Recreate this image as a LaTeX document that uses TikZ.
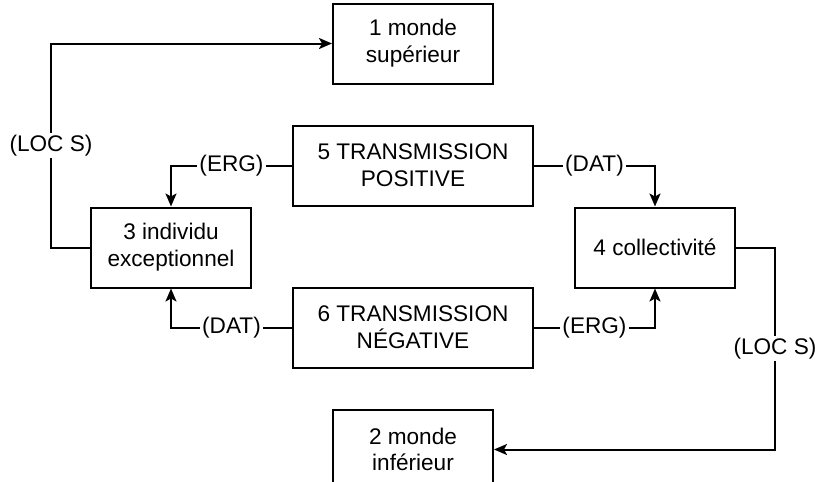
\documentclass[tikz,border=0pt]{standalone}
\usepackage{fontspec}
\setmainfont{Liberation Sans}
\usetikzlibrary{arrows.meta, positioning}

\begin{document}
\begin{tikzpicture}[
    x=1pt, y=1pt,
    node distance=40pt,
    every node/.style={font=\fontsize{22.6}{26.8}\selectfont},
    block/.style={rectangle, draw, line width=2pt, minimum width=160pt, minimum height=80pt, align=center, inner sep=0pt},
    wideblock/.style={block, minimum width=240pt},
    arrow/.style={-{Stealth[length=13pt, width=11pt, inset=3pt]}, line width=2pt},
    tag/.style={fill=white, inner sep=2pt},
]
    \useasboundingbox (0,0) rectangle (815,-482);

    % Nodes
    \node[wideblock] (pos) at (413,-165.5) {5 TRANSMISSION\\POSITIVE};
    \node[block, above=of pos] (sup) {1 monde\\supérieur};
    \node[block, below left=0pt and 40pt of pos.south west] (indiv) {3 individu\\exceptionnel};
    \node[block, below right=0pt and 40pt of pos.south east] (coll) {4 collectivité};
    \node[wideblock, below=80pt of pos] (neg) {6 TRANSMISSION\\NÉGATIVE};
    \node[block, below=of neg] (inf) {2 monde\\inférieur};

    % Arrows
    \draw[arrow] (indiv.west) -- ++(-39,0) |- node[tag, pos=0.25] {(LOC S)} (sup.west);
    \draw[arrow] (pos.west) -| node[tag, pos=0.25] {(ERG)} (indiv.north);
    \draw[arrow] (pos.east) -| node[tag, pos=0.25] {(DAT)} (coll.north);
    \draw[arrow] (neg.west) -| node[tag, pos=0.25] {(DAT)} (indiv.south);
    \draw[arrow] (neg.east) -| node[tag, pos=0.25] {(ERG)} (coll.south);
    \draw[arrow] (coll.east) -- ++(39,0) |- node[tag, pos=0.25] {(LOC S)} (inf.east);
\end{tikzpicture}
\end{document}
